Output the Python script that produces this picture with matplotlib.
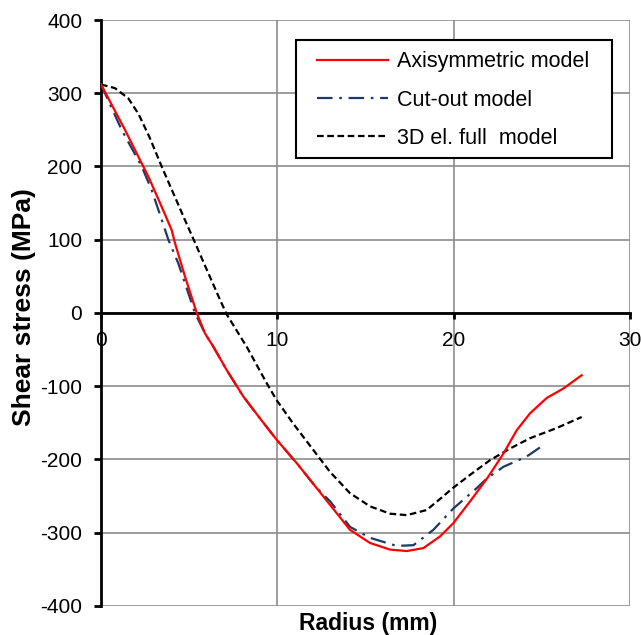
import matplotlib.pyplot as plt
from matplotlib.patches import Rectangle

plt.rcParams['font.family'] = ['Liberation Sans', 'DejaVu Sans']
plt.rcParams['axes.unicode_minus'] = False

# Axisymmetric model
axi_r = [0.0, 1.36, 2.5, 2.69, 3.44, 4.01, 4.2, 4.76, 5.43, 5.9, 6.37, 7.13, 8.07,
         9.02, 9.96, 11.1, 12.23, 12.99, 14.12, 15.26, 16.39, 17.34, 18.28, 19.23,
         19.98, 21.0, 21.95, 22.82, 23.58, 24.33, 25.28, 26.23, 27.26]
axi_s = [312, 250, 195, 186, 145, 113, 95, 50, 0, -28, -46, -78, -114,
         -144, -173, -205, -239, -262, -296, -314, -323, -325, -321, -305,
         -287, -255, -224, -192, -160, -137, -116, -103, -85]

# Cut-out model
cut_r = [0.0, 1.17, 2.31, 2.87, 3.25, 3.82, 4.38, 5.33, 5.9, 6.37, 7.13, 8.07,
         9.02, 9.96, 11.1, 12.23, 12.99, 14.12, 15.26, 16.77, 17.72, 18.85,
         19.98, 21.31, 21.88, 22.82, 24.14, 24.99]
cut_s = [312, 250, 200, 168, 141, 100, 68, 0, -28, -46, -78, -114,
         -144, -173, -205, -239, -257, -292, -307, -318, -317, -296,
         -267, -239, -226, -210, -196, -182]

# 3D el. full model
full_r = [0.0, 0.79, 1.55, 2.12, 2.75, 3.44, 4.2, 4.76, 5.33, 5.8, 6.75, 7.13,
          8.26, 9.4, 9.96, 10.9, 12.04, 12.99, 14.12, 15.26, 16.39, 17.34,
          18.47, 19.42, 19.9, 20.93, 22.06, 23.2, 24.33, 25.85, 27.26]
full_s = [312, 307, 293, 272, 240, 200, 158, 127, 96, 70, 18, -2,
          -46, -96, -119, -151, -187, -217, -246, -264, -274, -276,
          -269, -250, -240, -221, -201, -185, -171, -157, -142]

W, H = 641, 635
fig = plt.figure(figsize=(W / 100, H / 100), dpi=100)
ax = fig.add_axes([0.1576, 0.0457, 0.8252, 0.9228])

ax.plot(axi_r, axi_s, color='#ff0000', lw=1.6, label='Axisymmetric model', zorder=4)
ax.plot(cut_r, cut_s, color='#1f3864', lw=1.6, dashes=(7, 3, 1.2, 3),
        label='Cut-out model', zorder=3)
ax.plot(full_r, full_s, color='black', lw=1.6, dashes=(3, 1.6),
        label='3D el. full  model', zorder=3)

ax.set_xlim(0, 30)
ax.set_ylim(-400, 400)
ax.set_xticks([0, 10, 20, 30])
ax.set_yticks(range(-400, 401, 100))
ax.grid(True, color='#8c8c8c', lw=1.2)
ax.set_axisbelow(True)

ax.spines['top'].set_visible(False)
ax.spines['right'].set_visible(False)
ax.spines['left'].set_linewidth(2)
ax.spines['bottom'].set_linewidth(2)
ax.spines['bottom'].set_position(('data', 0))
ax.tick_params(axis='y', direction='out', length=5, width=2, labelsize=15, pad=8.5)
ax.tick_params(axis='x', direction='out', length=4, width=2, labelsize=15, pad=9)

ax.set_ylabel('Shear stress (MPa)', fontsize=19, fontweight='bold')
ax.yaxis.set_label_coords(-0.122, 0.51)
ax.set_xlabel('Radius (mm)', fontsize=16.5, fontweight='bold')
ax.xaxis.set_label_coords(0.505, -0.010)

# legend without frame, then a wider box drawn behind it
leg = ax.legend(loc='upper right', bbox_to_anchor=(596 / W, 590 / H),
                bbox_transform=fig.transFigure, borderaxespad=0,
                fontsize=15.5, handlelength=3.3, handletextpad=0.42,
                labelspacing=0.8, borderpad=0.3, frameon=False)
leg.set_zorder(6)
fig.canvas.draw()
bb = leg.get_window_extent(fig.canvas.get_renderer())
(x0, y0), (x1, y1) = ax.transAxes.inverted().transform([[bb.x0 - 15, bb.y0 - 3],
                                                        [bb.x1 + 16, bb.y1 + 5]])
ax.add_patch(Rectangle((x0, y0), x1 - x0, y1 - y0, transform=ax.transAxes,
                       facecolor='white', edgecolor='black', lw=1.5,
                       zorder=5.5, clip_on=False))

fig.savefig('out.png', dpi=100)
